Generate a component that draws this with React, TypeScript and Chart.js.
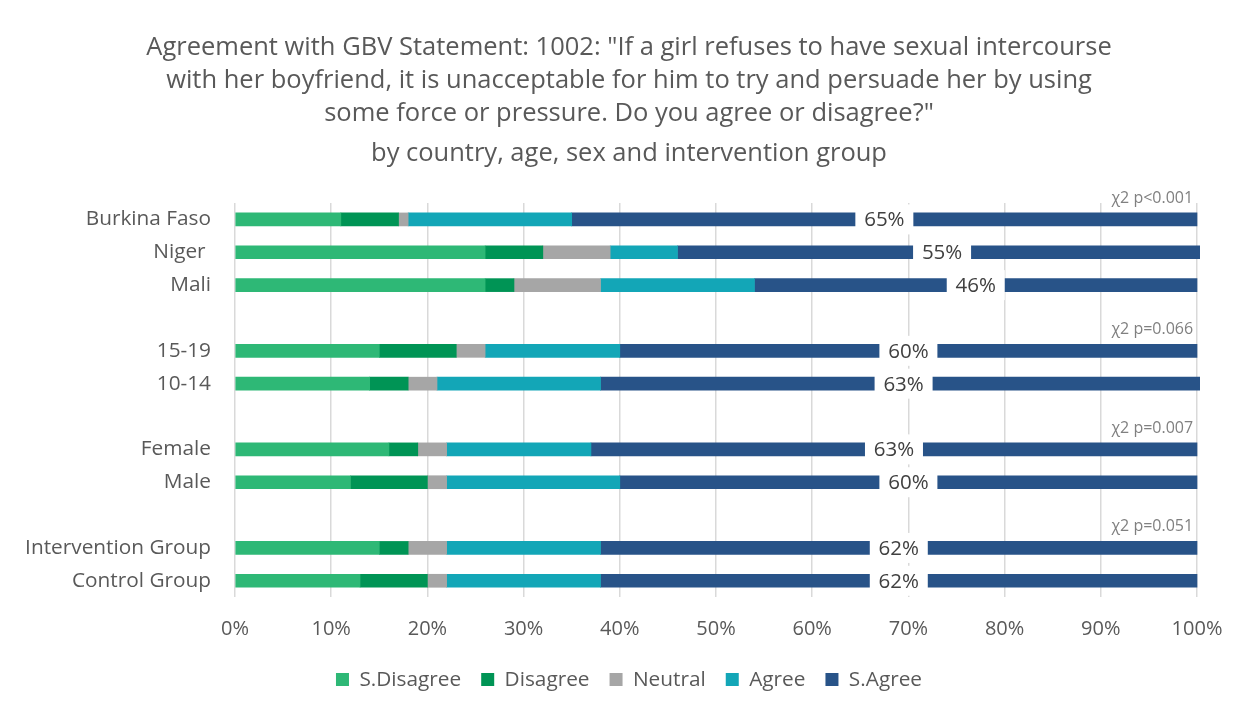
import React, { useEffect, useRef } from "react";
import { Chart, registerables } from "chart.js";

Chart.register(...registerables);

const titleLines = [
  'Agreement with GBV Statement: 1002: "If a girl refuses to have sexual intercourse',
  "with her boyfriend, it is unacceptable for him to try and persuade her by using",
  'some force or pressure. Do you agree or disagree?"',
];
const subtitleText = "by country, age, sex and intervention group";

const categories = [
  "Burkina Faso",
  "Niger ",
  "Mali",
  "",
  "15-19",
  "10-14",
  "",
  "Female",
  "Male",
  "",
  "Intervention Group",
  "Control Group",
];

const seriesNames = ["S.Disagree", "Disagree", "Neutral", "Agree", "S.Agree"];
const seriesColors = ["#2eb876", "#009455", "#a6a6a6", "#13a6b7", "#285388"];

const sDisagree = [11, 26, 26, null, 15, 14, null, 16, 12, null, 15, 13];
const disagree = [6, 6, 3, null, 8, 4, null, 3, 8, null, 3, 7];
const neutral = [1, 7, 9, null, 3, 3, null, 3, 2, null, 4, 2];
const agree = [17, 7, 16, null, 14, 17, null, 15, 18, null, 16, 16];
const sAgree = [65, 55, 46, null, 60, 63, null, 63, 60, null, 62, 62];

const chiLabels = ["χ2 p<0.001", "χ2 p=0.066", "χ2 p=0.007", "χ2 p=0.051"];
const chiRows = [0, 4, 7, 10];

const xTicks = [0, 10, 20, 30, 40, 50, 60, 70, 80, 90, 100];

const FONT = "'Open Sans', Lato, sans-serif";

const overlayPlugin = {
  id: "overlay",
  afterDatasetsDraw(chart: any) {
    const ctx = chart.ctx;
    const x = chart.scales.x;
    const y = chart.scales.y;
    ctx.save();
    const meta = chart.getDatasetMeta(4);
    ctx.font = `20.5px ${FONT}`;
    ctx.textAlign = "center";
    ctx.textBaseline = "middle";
    meta.data.forEach((bar: any, i: number) => {
      const v = sAgree[i];
      if (v == null) return;
      const cx = (bar.x + bar.base) / 2;
      const cy = bar.y;
      const w = 58;
      const h = 30;
      ctx.fillStyle = "#ffffff";
      ctx.fillRect(cx - w / 2, cy - h / 2, w, h);
      ctx.fillStyle = "#404040";
      ctx.fillText(v + "%", cx, cy + 1);
    });
    ctx.font = `16px ${FONT}`;
    ctx.fillStyle = "#808080";
    ctx.textAlign = "right";
    chiLabels.forEach((t, k) => {
      const cy = y.getPixelForValue(chiRows[k]) - 21;
      ctx.fillText(t, x.getPixelForValue(99.6), cy);
    });
    ctx.restore();
  },
};

export default function App() {
  const ref = useRef<HTMLCanvasElement>(null);
  useEffect(() => {
    if (!ref.current) return;
    const datasets = [sDisagree, disagree, neutral, agree, sAgree].map((d, i) => ({
      label: seriesNames[i],
      data: d,
      backgroundColor: seriesColors[i],
      borderWidth: 0,
      barThickness: 13,
      clip: { left: 0, right: 3, top: false, bottom: false } as any,
    }));
    const chart = new Chart(ref.current, {
      type: "bar",
      data: { labels: categories, datasets },
      plugins: [overlayPlugin],
      options: {
        indexAxis: "y",
        responsive: false,
        animation: false,
        layout: { padding: { left: 0, right: 0, top: 0, bottom: 15 } },
        scales: {
          x: {
            stacked: true,
            min: 0,
            max: 100,
            afterBuildTicks: (s: any) => {
              s.ticks = xTicks.map((v) => ({ value: v }));
            },
            afterFit: (s: any) => {
              s.height = 52;
            },
            ticks: {
              callback: (v: any) => v + "%",
              color: "#595959",
              font: { family: FONT, size: 20 },
              padding: 20,
            },
            grid: { color: "#d9d9d9", lineWidth: 1.5, drawTicks: false },
            border: { display: false },
          },
          y: {
            stacked: true,
            afterFit: (s: any) => {
              s.width = 227;
            },
            ticks: {
              color: "#595959",
              font: { family: FONT, size: 20.8 },
              padding: 24,
              autoSkip: false,
            },
            grid: { display: false, drawTicks: false },
            border: { display: false },
          },
          yRight: {
            type: "category",
            position: "right",
            afterFit: (s: any) => {
              s.width = 53;
            },
            ticks: { display: false },
            grid: { display: false, drawTicks: false },
            border: { display: false },
          },
        },
        plugins: {
          title: {
            display: true,
            text: titleLines,
            color: "#595959",
            font: { family: FONT, size: 25.5, weight: "normal", lineHeight: 33 / 25.5 },
            padding: { top: 23, bottom: 7 },
          },
          subtitle: {
            display: true,
            text: subtitleText,
            color: "#595959",
            font: { family: FONT, size: 25.5, weight: "normal", lineHeight: 33 / 25.5 },
            padding: { top: 0, bottom: 33 },
          },
          legend: {
            position: "bottom",
            labels: {
              boxWidth: 13,
              boxHeight: 13,
              padding: 20,
              color: "#595959",
              font: { family: FONT, size: 20.8 },
            },
          },
          tooltip: { enabled: false },
        },
      },
    });
    return () => chart.destroy();
  }, []);
  return (
    <div
      style={{
        marginLeft: -2,
        marginTop: -2,
        border: "2px solid #d9d9d9",
        width: 1242,
        height: 707,
      }}
    >
      <canvas ref={ref} width={1242} height={707} style={{ display: "block" }} />
    </div>
  );
}
